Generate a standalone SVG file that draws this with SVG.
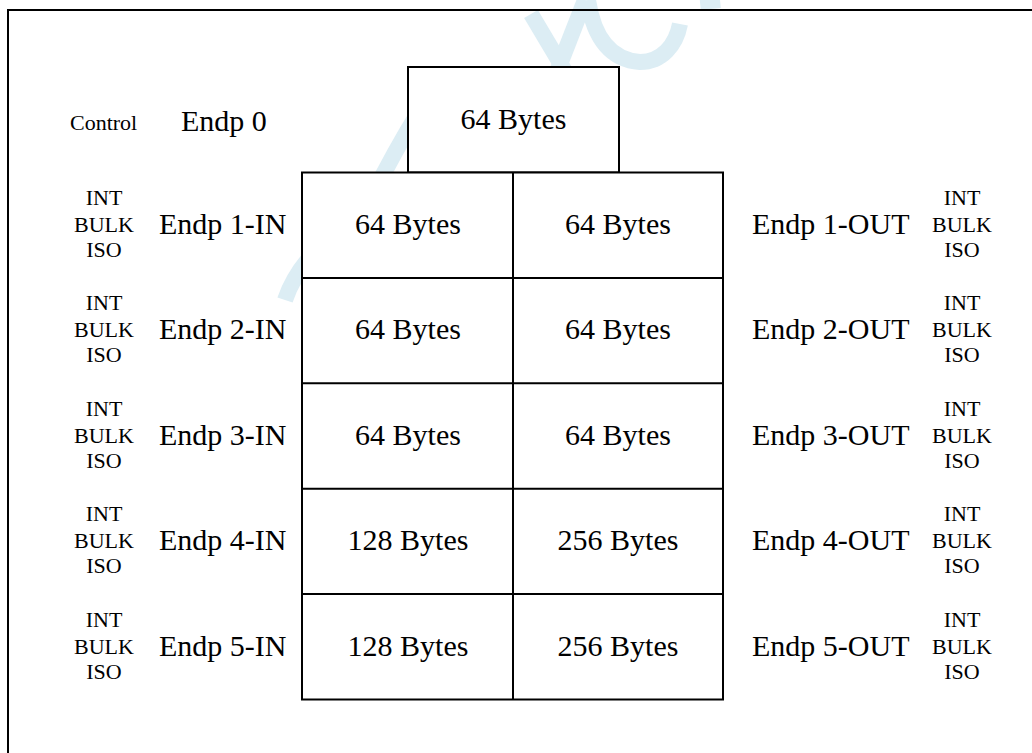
<svg xmlns="http://www.w3.org/2000/svg" width="1032" height="753" viewBox="0 0 1032 753">
<style>
.bg{fill:#ffffff}
.wm{fill:none;stroke:#dcedf4;stroke-width:16;stroke-linecap:butt}
.box{fill:#ffffff;stroke:#000;stroke-width:2}
.ln{stroke:#000;stroke-width:2;fill:none}
.t{font-family:"Liberation Serif","Times New Roman",serif;fill:#000}
.big{font-size:30px}
.sm{font-size:22px;text-anchor:middle}
.mid{text-anchor:middle}
</style>
<rect class="bg" x="0" y="0" width="1032" height="753"/>
<g id="watermark">
<path class="wm" d="M531,14 L600,130"/>
<path class="wm" d="M548,95 L585,0"/>
<path class="wm" d="M588,0 C594,40 612,60 640,62 C662,62 676,45 680,24"/>
<path class="wm" d="M700,2 L720,0"/>
<path class="wm" d="M420,110 C395,150 380,180 370,200 C340,230 300,255 285,300"/>
</g>
<path id="frame" class="ln" d="M8,753 V10 H1032"/>
<g id="ep0">
<rect class="box" x="408" y="67" width="211" height="105.5"/>
<text class="t big mid" x="513.5" y="129">64 Bytes</text>
<text class="t" x="70" y="130" style="font-size:22px">Control</text>
<text class="t big" x="181" y="131">Endp 0</text>
</g>
<g id="grid">
<rect class="box" x="302" y="172.5" width="421" height="527"/>
<line class="ln" x1="513" y1="172.5" x2="513" y2="699.5"/>
<line class="ln" x1="302" y1="277.9" x2="723" y2="277.9"/>
<line class="ln" x1="302" y1="383.3" x2="723" y2="383.3"/>
<line class="ln" x1="302" y1="488.7" x2="723" y2="488.7"/>
<line class="ln" x1="302" y1="594.1" x2="723" y2="594.1"/>
</g>
<g id="ep1" transform="translate(0,0)">
<text class="t sm" x="104" y="205">INT</text><text class="t sm" x="104" y="232">BULK</text><text class="t sm" x="104" y="257">ISO</text>
<text class="t big" x="159" y="234">Endp 1-IN</text>
<text class="t big mid" x="408" y="234">64 Bytes</text>
<text class="t big mid" x="618" y="234">64 Bytes</text>
<text class="t big" x="752" y="234">Endp 1-OUT</text>
<text class="t sm" x="962" y="205">INT</text><text class="t sm" x="962" y="232">BULK</text><text class="t sm" x="962" y="257">ISO</text>
</g>
<g id="ep2" transform="translate(0,105.4)">
<text class="t sm" x="104" y="205">INT</text><text class="t sm" x="104" y="232">BULK</text><text class="t sm" x="104" y="257">ISO</text>
<text class="t big" x="159" y="234">Endp 2-IN</text>
<text class="t big mid" x="408" y="234">64 Bytes</text>
<text class="t big mid" x="618" y="234">64 Bytes</text>
<text class="t big" x="752" y="234">Endp 2-OUT</text>
<text class="t sm" x="962" y="205">INT</text><text class="t sm" x="962" y="232">BULK</text><text class="t sm" x="962" y="257">ISO</text>
</g>
<g id="ep3" transform="translate(0,210.8)">
<text class="t sm" x="104" y="205">INT</text><text class="t sm" x="104" y="232">BULK</text><text class="t sm" x="104" y="257">ISO</text>
<text class="t big" x="159" y="234">Endp 3-IN</text>
<text class="t big mid" x="408" y="234">64 Bytes</text>
<text class="t big mid" x="618" y="234">64 Bytes</text>
<text class="t big" x="752" y="234">Endp 3-OUT</text>
<text class="t sm" x="962" y="205">INT</text><text class="t sm" x="962" y="232">BULK</text><text class="t sm" x="962" y="257">ISO</text>
</g>
<g id="ep4" transform="translate(0,316.2)">
<text class="t sm" x="104" y="205">INT</text><text class="t sm" x="104" y="232">BULK</text><text class="t sm" x="104" y="257">ISO</text>
<text class="t big" x="159" y="234">Endp 4-IN</text>
<text class="t big mid" x="408" y="234">128 Bytes</text>
<text class="t big mid" x="618" y="234">256 Bytes</text>
<text class="t big" x="752" y="234">Endp 4-OUT</text>
<text class="t sm" x="962" y="205">INT</text><text class="t sm" x="962" y="232">BULK</text><text class="t sm" x="962" y="257">ISO</text>
</g>
<g id="ep5" transform="translate(0,421.6)">
<text class="t sm" x="104" y="205">INT</text><text class="t sm" x="104" y="232">BULK</text><text class="t sm" x="104" y="257">ISO</text>
<text class="t big" x="159" y="234">Endp 5-IN</text>
<text class="t big mid" x="408" y="234">128 Bytes</text>
<text class="t big mid" x="618" y="234">256 Bytes</text>
<text class="t big" x="752" y="234">Endp 5-OUT</text>
<text class="t sm" x="962" y="205">INT</text><text class="t sm" x="962" y="232">BULK</text><text class="t sm" x="962" y="257">ISO</text>
</g>
</svg>
